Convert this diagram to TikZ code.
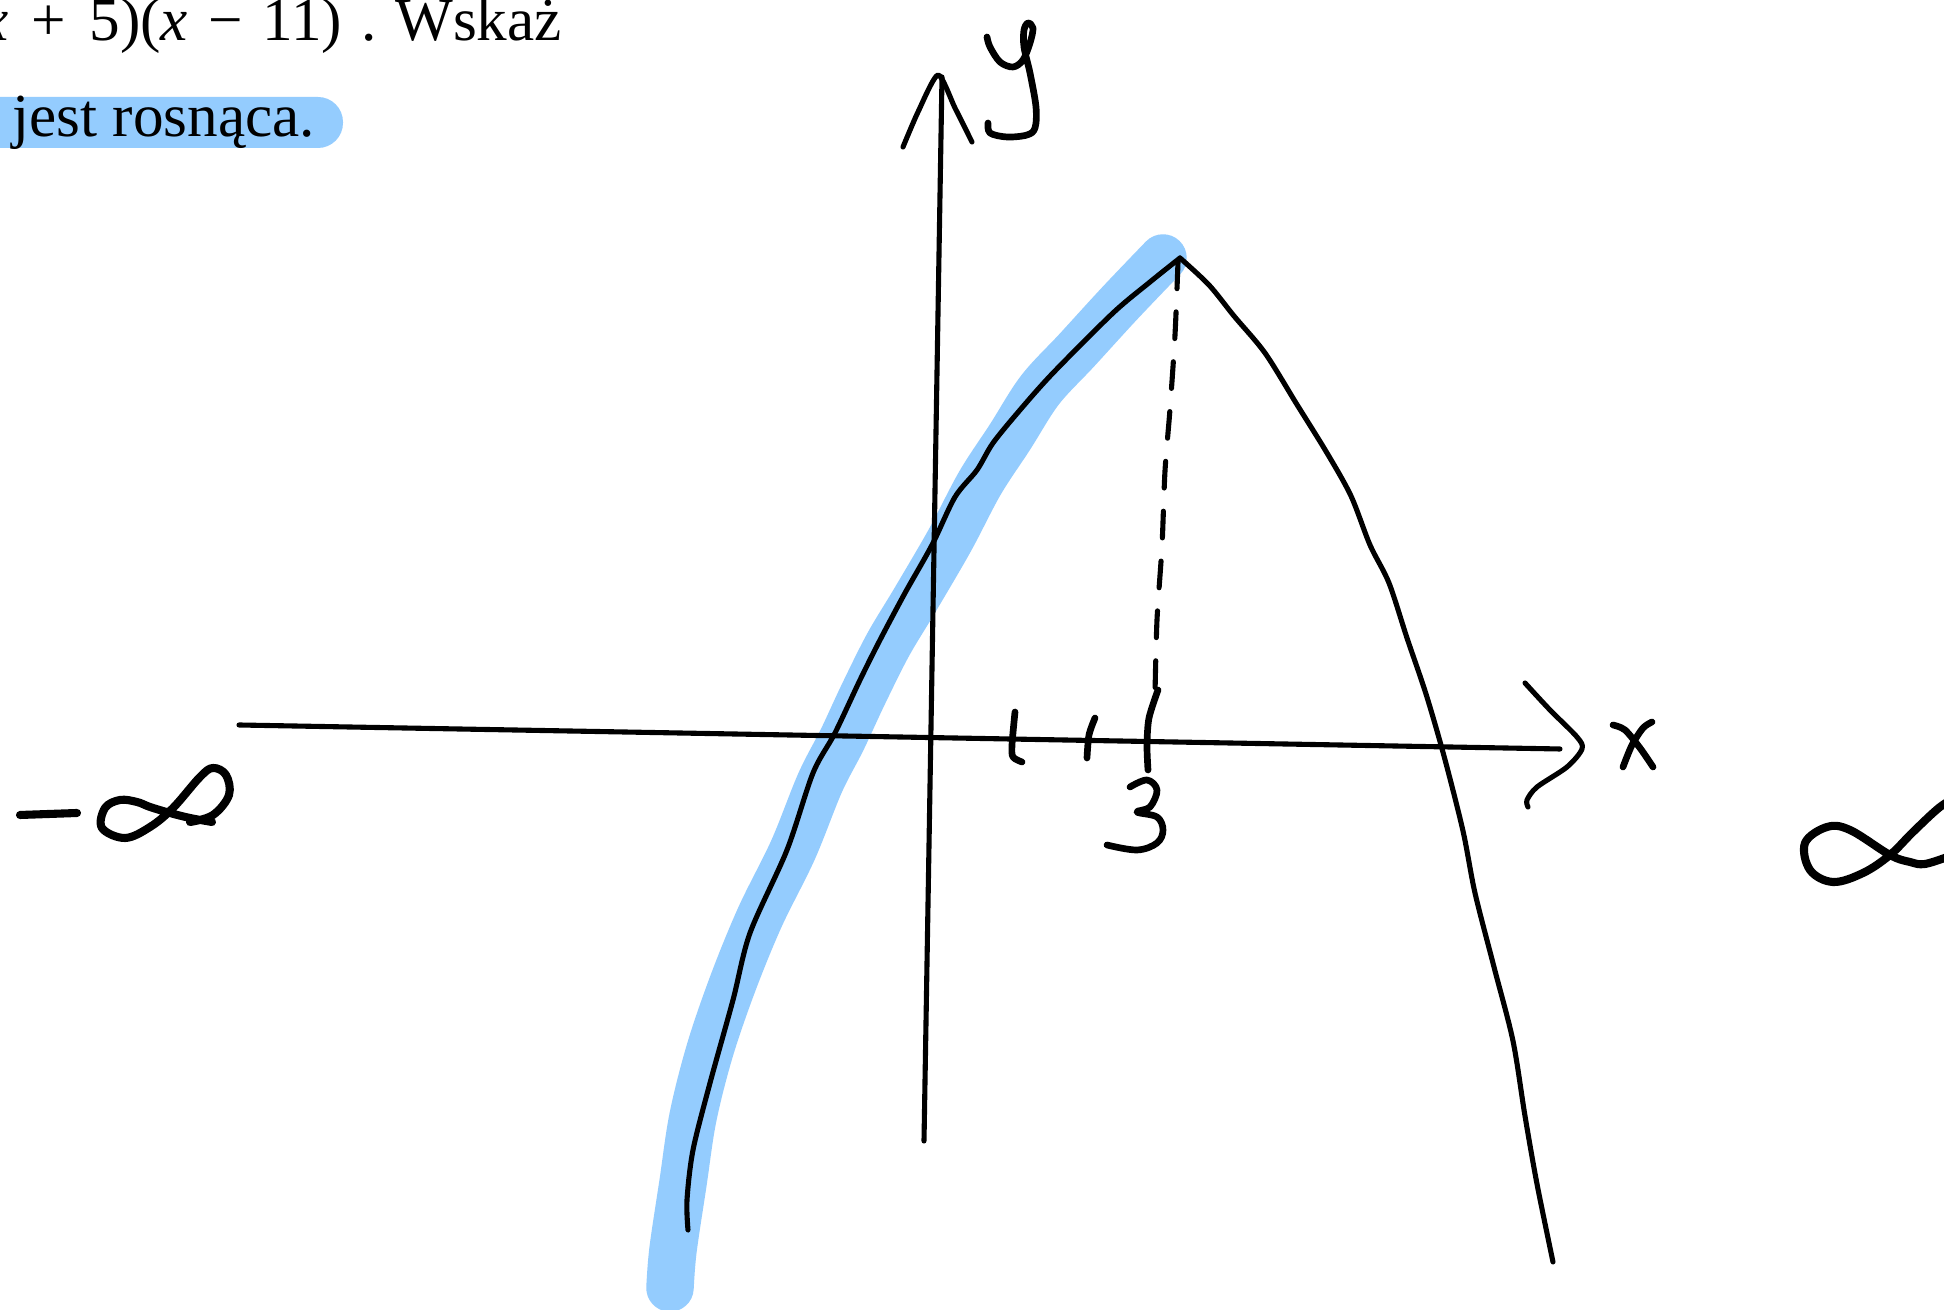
\documentclass[tikz,border=0pt]{standalone}
\usepackage{fontspec}
\setmainfont{Liberation Serif}
\definecolor{hlblue}{RGB}{148,204,254}
\begin{document}
\begin{tikzpicture}[x=0.01cm,y=-0.01cm,
  axis/.style={line width=1.45pt,line cap=round,line join=round},
  pen/.style={line width=1.9pt,line cap=round,line join=round},
  curve/.style={line width=1.45pt,line cap=round,line join=round},
  marker/.style={line width=13.5pt,line cap=round,line join=round,draw=hlblue},
  dashpen/.style={line width=1.45pt,line cap=round,dash pattern=on 7.6pt off 6.6pt},
  txt/.style={inner sep=0pt,font=\fontsize{17.4}{20}\selectfont}]
\clip (0,0) rectangle (1944,1310);
\fill[white] (0,0) rectangle (1944,1310);
% highlighted text
\fill[hlblue,rounded corners=0.25cm] (-40,97) rectangle (343,148);
\node[txt,anchor=base west] (t2) at (12,137) {jest rosnąca.};
\node[txt,anchor=base east] (t1) at (343,41) {\textit{x}\hspace{0.38em}+\hspace{0.38em}5)(\textit{x}\hspace{0.33em}−\hspace{0.33em}11)};
\node[txt,anchor=base west] (t1b) at (361,41) {.\hspace{0.3em}Wskaż};
% blue highlight stroke
\draw[marker] plot[smooth,tension=0.55] coordinates {(670,1288) (673,1250) (683,1183) (693,1117) (710,1050) (733,983) (760,917) (793,850) (820,783) (842,740) (863,695) (888,645) (915,600) (950,540) (980,483) (1010,437) (1040,390) (1077,350) (1120,303) (1163,258)};
% axes
\draw[axis] (239,725) -- (1560,749);
\draw[axis] plot[smooth,tension=0.5] coordinates {(1525,683) (1550,710) (1577,737) (1582,749) (1567,767) (1537,787) (1527,800) (1528,807)};
\draw[axis] (924,1141) -- (942,77);
\draw[axis] plot[smooth,tension=0.4] coordinates {(903,147) (918,112) (938,75) (955,108) (972,142)};
% x label
\draw[pen] plot[smooth] coordinates {(1613,725) (1625,730) (1640,748) (1653,767)};
\draw[pen] plot[smooth] coordinates {(1652,722) (1643,728) (1632,745) (1623,767)};
% y label
\draw[pen] plot[smooth,tension=0.55] coordinates {(987,37) (990,47) (1000,62) (1013,67) (1023,60) (1030,43) (1033,28) (1028,23) (1024,30) (1024,47) (1030,73) (1036,107) (1035,128) (1027,135) (1007,137) (990,133) (988,123)};
% parabola
\draw[curve] plot[smooth,tension=0.5] coordinates {(688,1230) (687,1200) (693,1150) (710,1083) (733,1000) (750,933) (787,850) (813,773) (835,733) (860,680) (880,640) (905,593) (932,545) (955,497) (977,470) (993,443) (1020,410) (1053,373) (1113,313) (1150,282) (1180,258)};
\draw[curve] plot[smooth,tension=0.5] coordinates {(1180,258) (1209,285) (1234,316) (1265,353) (1296,403) (1327,453) (1351,496) (1370,545) (1389,583) (1407,638) (1426,694) (1444,756) (1463,831) (1475,893) (1494,967) (1513,1041) (1525,1116) (1537,1184) (1553,1262)};
% dashed vertical
\draw[dashpen] plot[smooth] coordinates {(1178,262) (1175,335) (1170,409) (1165,471) (1162,546) (1157,620) (1155,694)};
% ticks
\draw[pen] plot[smooth] coordinates {(1015,712) (1012,745) (1013,757) (1022,762)};
\draw[pen] plot[smooth] coordinates {(1095,718) (1089,735) (1087,758)};
\draw[pen] plot[smooth] coordinates {(1158,690) (1149,718) (1147,745) (1148,770)};
% "3"
\draw[pen] plot[smooth,tension=0.6] coordinates {(1130,787) (1147,780) (1157,790) (1150,807) (1137,812) (1157,817) (1163,830) (1157,843) (1137,850) (1107,845)};
% minus infinity
\draw[pen,line width=2.3pt] (20,815) -- (77,813);
\draw[pen,line width=2.3pt] plot[smooth,tension=0.6] coordinates {(212,822) (190,818) (170,813) (150,807) (137,802) (120,800) (105,808) (102,828) (125,838) (150,827) (173,808) (200,777) (213,768) (226,775) (229,795) (213,815) (190,822)};
% infinity
\draw[pen,line width=2.3pt] plot[smooth,tension=0.6] coordinates {(1960,795) (1940,807) (1913,832) (1890,855) (1863,873) (1833,882) (1810,870) (1805,843) (1827,827) (1850,830) (1890,855) (1910,862) (1925,864) (1950,856)};
\end{tikzpicture}
\end{document}
